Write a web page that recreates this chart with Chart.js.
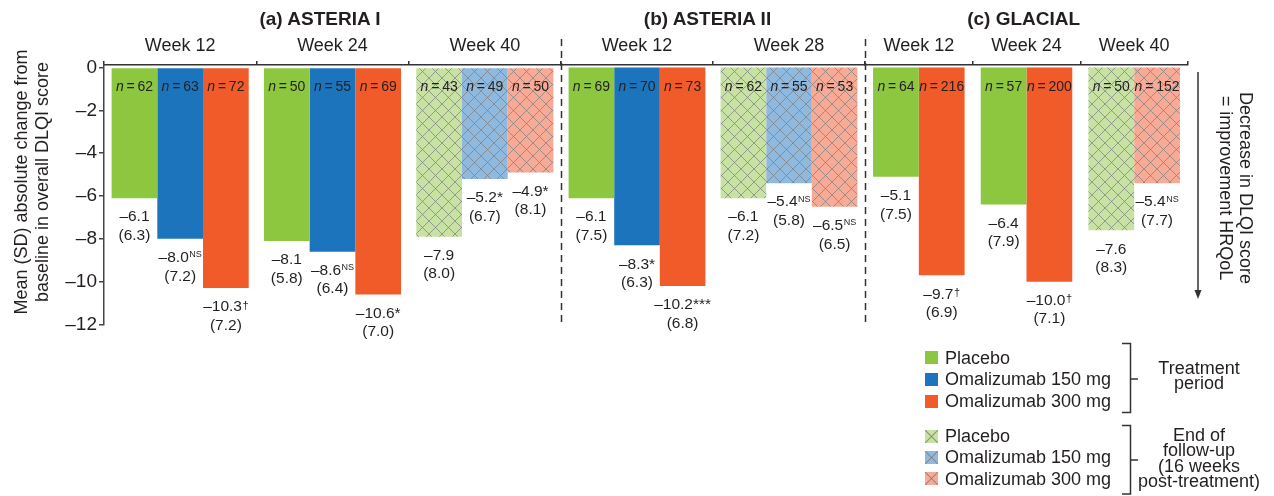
<!DOCTYPE html>
<html>
<head>
<meta charset="utf-8">
<script src="https://cdn.jsdelivr.net/npm/chart.js@4.4.0/dist/chart.umd.min.js"></script>
<style>
html,body{margin:0;padding:0;background:#fff;}
#wrap{position:relative;width:1274px;height:496px;overflow:hidden;font-family:"Liberation Sans",Arial,Helvetica,sans-serif;color:#231F20;}
canvas{position:absolute;left:0;top:0;}
.t{position:absolute;white-space:nowrap;}
.title{font-weight:bold;font-size:19px;line-height:22px;width:240px;text-align:center;top:8px;}
.leg{font-size:18px;line-height:20px;left:945px;}
.sw{position:absolute;left:925px;width:13px;height:13px;}
</style>
</head>
<body>
<div id="wrap">
<canvas id="cA" width="1274" height="496"></canvas>
<canvas id="cB" width="1274" height="496"></canvas>
<canvas id="cC" width="1274" height="496"></canvas>
<svg width="1274" height="496" style="position:absolute;left:0;top:0">
  <g stroke="#333" stroke-width="1.5" fill="none">
    <path d="M1122,343.5 H1130.5 V412.5 H1122 M1130.5,379 H1138"/>
    <path d="M1122,425.5 H1130.5 V494 H1122 M1130.5,460 H1138"/>
    <line x1="1198" y1="72" x2="1198" y2="292"/>
  </g>
  <path d="M1194.5,290 L1201.5,290 L1198,299 Z" fill="#333"/>
</svg>

<div class="t title" style="left:200px;">(a) ASTERIA I</div>
<div class="t title" style="left:587.5px;">(b) ASTERIA II</div>
<div class="t title" style="left:903.7px;">(c) GLACIAL</div>

<div class="t" style="left:-118.5px;top:161px;width:300px;height:42px;line-height:21px;font-size:18px;text-align:center;transform:rotate(-90deg);">Mean (SD) absolute change from<br>baseline in overall DLQI score</div>

<div class="t" style="left:1106px;top:167.5px;width:260px;height:40px;line-height:20px;font-size:18px;text-align:center;transform:rotate(90deg);">Decrease in DLQI score<br>= improvement HRQoL</div>

<div id="legend"></div>
<div class="t" style="left:1119px;top:360.8px;width:160px;line-height:15.5px;font-size:18px;text-align:center;">Treatment<br>period</div>
<div class="t" style="left:1109px;top:428px;width:180px;line-height:15.3px;font-size:18px;text-align:center;">End of<br>follow-up<br>(16 weeks<br>post-treatment)</div>
</div>

<script>
// ---------------- data ----------------
const yTicks = [0, -2, -4, -6, -8, -10, -12];

const asteria1Weeks = ['Week 12', 'Week 24', 'Week 40'];
const asteria1FollowUp = [false, false, true];
const asteria1PlaceboMean = [-6.1, -8.1, -7.9];
const asteria1PlaceboSD = [6.3, 5.8, 8.0];
const asteria1PlaceboN = [62, 50, 43];
const asteria1PlaceboSig = ['', '', ''];
const asteria1Oma150Mean = [-8.0, -8.6, -5.2];
const asteria1Oma150SD = [7.2, 6.4, 6.7];
const asteria1Oma150N = [63, 55, 49];
const asteria1Oma150Sig = ['NS', 'NS', '*'];
const asteria1Oma300Mean = [-10.3, -10.6, -4.9];
const asteria1Oma300SD = [7.2, 7.0, 8.1];
const asteria1Oma300N = [72, 69, 50];
const asteria1Oma300Sig = ['\u2020', '*', '*'];

const asteria2Weeks = ['Week 12', 'Week 28'];
const asteria2FollowUp = [false, true];
const asteria2PlaceboMean = [-6.1, -6.1];
const asteria2PlaceboSD = [7.5, 7.2];
const asteria2PlaceboN = [69, 62];
const asteria2PlaceboSig = ['', ''];
const asteria2Oma150Mean = [-8.3, -5.4];
const asteria2Oma150SD = [6.3, 5.8];
const asteria2Oma150N = [70, 55];
const asteria2Oma150Sig = ['*', 'NS'];
const asteria2Oma300Mean = [-10.2, -6.5];
const asteria2Oma300SD = [6.8, 6.5];
const asteria2Oma300N = [73, 53];
const asteria2Oma300Sig = ['***', 'NS'];

const glacialWeeks = ['Week 12', 'Week 24', 'Week 40'];
const glacialFollowUp = [false, false, true];
const glacialPlaceboMean = [-5.1, -6.4, -7.6];
const glacialPlaceboSD = [7.5, 7.9, 8.3];
const glacialPlaceboN = [64, 57, 50];
const glacialPlaceboSig = ['', '', ''];
const glacialOma300Mean = [-9.7, -10.0, -5.4];
const glacialOma300SD = [6.9, 7.1, 7.7];
const glacialOma300N = [216, 200, 152];
const glacialOma300Sig = ['\u2020', '\u2020', 'NS'];

const seriesNames = {placebo: 'Placebo', oma150: 'Omalizumab 150 mg', oma300: 'Omalizumab 300 mg'};

// ---------------- styles ----------------
const FAM = '"Liberation Sans", Arial, Helvetica, sans-serif';
const TXT = '#231F20';
const solid = {placebo: '#8DC63F', oma150: '#1C75BC', oma300: '#F15A29'};
const light = {placebo: '#C7E2A2', oma150: '#8FB9DF', oma300: '#F7AA95'};
Chart.defaults.font.family = FAM;

function hatch(base) {
  const s = 13;
  const c = document.createElement('canvas');
  c.width = s; c.height = s;
  const g = c.getContext('2d');
  g.fillStyle = base; g.fillRect(0, 0, s, s);
  g.strokeStyle = 'rgba(125,125,125,0.8)';
  g.lineWidth = 0.9;
  g.beginPath();
  for (let k = -1; k <= 1; k++) {
    g.moveTo(k * s, 0); g.lineTo(k * s + s, s);
    g.moveTo(k * s + s, 0); g.lineTo(k * s, s);
  }
  g.stroke();
  return g.createPattern(c, 'repeat');
}

function fmtNum(v) { return (v < 0 ? '\u2013' : '') + Math.abs(v).toFixed(1); }
function fmtTick(v) { return v === 0 ? '0' : (v < 0 ? '\u2013' : '') + Math.abs(v); }

function drawN(ctx, cx, cy, n) {
  const fs = 14;
  ctx.save();
  ctx.fillStyle = TXT; ctx.textBaseline = 'middle'; ctx.textAlign = 'left';
  ctx.font = 'italic ' + fs + 'px ' + FAM;
  const w1 = ctx.measureText('n').width;
  const rest = '\u2009=\u2009' + n;
  ctx.font = fs + 'px ' + FAM;
  const w2 = ctx.measureText(rest).width;
  const x0 = cx - (w1 + w2) / 2;
  ctx.font = 'italic ' + fs + 'px ' + FAM;
  ctx.fillText('n', x0, cy);
  ctx.font = fs + 'px ' + FAM;
  ctx.fillText(rest, x0 + w1, cy);
  ctx.restore();
}

function drawVal(ctx, cx, cy, mean, sig, sd) {
  const fs = 15.5;
  ctx.save();
  ctx.fillStyle = TXT; ctx.textBaseline = 'middle'; ctx.textAlign = 'left';
  const main = fmtNum(mean);
  ctx.font = fs + 'px ' + FAM;
  const wm = ctx.measureText(main).width;
  let supFont = fs + 'px ' + FAM, supDy = 0, gap = 0, ws = 0;
  if (sig) {
    if (sig.indexOf('*') >= 0) { supFont = fs + 'px ' + FAM; supDy = 0; gap = 0; }
    else if (sig === 'NS') { supFont = '9px ' + FAM; supDy = -3; gap = 0.5; }
    else { supFont = '11px ' + FAM; supDy = -1.5; gap = 0.5; }
    ctx.font = supFont;
    ws = ctx.measureText(sig).width;
  }
  const x0 = cx - (wm + gap + ws) / 2;
  ctx.font = fs + 'px ' + FAM;
  ctx.fillText(main, x0, cy);
  if (sig) { ctx.font = supFont; ctx.fillText(sig, x0 + wm + gap, cy + supDy); }
  ctx.font = fs + 'px ' + FAM;
  ctx.textAlign = 'center';
  ctx.fillText('(' + sd.toFixed(1) + ')', cx, cy + 18.5);
  ctx.restore();
}

function makeLabelPlugin(series) {
  return {
    id: 'valueLabels',
    afterDatasetsDraw(chart) {
      const ctx = chart.ctx;
      const zero = chart.scales.y.getPixelForValue(0);
      chart.data.datasets.forEach((ds, i) => {
        const meta = chart.getDatasetMeta(i);
        const s = series[i];
        meta.data.forEach((bar, j) => {
          drawN(ctx, bar.x, zero + 20, s.n[j]);
          drawVal(ctx, bar.x, bar.y + 19, s.mean[j], s.sig[j], s.sd[j]);
        });
      });
    }
  };
}

const dashPlugin = {
  id: 'panelDash',
  afterDraw(chart) {
    const ctx = chart.ctx;
    const x = Math.round(chart.chartArea.left) + 0.5;
    ctx.save();
    ctx.strokeStyle = '#333'; ctx.lineWidth = 1.5; ctx.setLineDash([7, 5]);
    ctx.beginPath(); ctx.moveTo(x, 39); ctx.lineTo(x, 327); ctx.stroke();
    ctx.restore();
  }
};

const panels = [
  {id: 'cA', weeks: asteria1Weeks, followUp: asteria1FollowUp, left: 104, right: 561, showY: true, catPct: 0.9, dash: false,
   series: [
     {key: 'placebo', mean: asteria1PlaceboMean, sd: asteria1PlaceboSD, n: asteria1PlaceboN, sig: asteria1PlaceboSig},
     {key: 'oma150', mean: asteria1Oma150Mean, sd: asteria1Oma150SD, n: asteria1Oma150N, sig: asteria1Oma150Sig},
     {key: 'oma300', mean: asteria1Oma300Mean, sd: asteria1Oma300SD, n: asteria1Oma300N, sig: asteria1Oma300Sig}]},
  {id: 'cB', weeks: asteria2Weeks, followUp: asteria2FollowUp, left: 561, right: 865, showY: false, catPct: 0.9, dash: true,
   series: [
     {key: 'placebo', mean: asteria2PlaceboMean, sd: asteria2PlaceboSD, n: asteria2PlaceboN, sig: asteria2PlaceboSig},
     {key: 'oma150', mean: asteria2Oma150Mean, sd: asteria2Oma150SD, n: asteria2Oma150N, sig: asteria2Oma150Sig},
     {key: 'oma300', mean: asteria2Oma300Mean, sd: asteria2Oma300SD, n: asteria2Oma300N, sig: asteria2Oma300Sig}]},
  {id: 'cC', weeks: glacialWeeks, followUp: glacialFollowUp, left: 865, right: 1188, showY: false, catPct: 0.85, dash: true,
   series: [
     {key: 'placebo', mean: glacialPlaceboMean, sd: glacialPlaceboSD, n: glacialPlaceboN, sig: glacialPlaceboSig},
     {key: 'oma300', mean: glacialOma300Mean, sd: glacialOma300SD, n: glacialOma300N, sig: glacialOma300Sig}]}
];

panels.forEach(p => {
  const plugins = [makeLabelPlugin(p.series)];
  if (p.dash) plugins.push(dashPlugin);
  const yScale = {
    display: p.showY, min: -12, max: 0.12,
    afterBuildTicks(s) { s.ticks = yTicks.map(v => ({value: v})); },
    ticks: {callback: v => fmtTick(v), font: {size: 19, family: FAM}, color: TXT, padding: 2},
    grid: {drawOnChartArea: false, drawTicks: true, tickLength: 5, color: '#444', lineWidth: 1.5},
    border: {display: true, color: '#444', width: 1.5}
  };
  if (p.showY) yScale.afterFit = function (s) { s.width = 104; };
  new Chart(document.getElementById(p.id), {
    type: 'bar',
    data: {
      labels: p.weeks,
      datasets: p.series.map(s => ({
        label: seriesNames[s.key],
        data: s.mean,
        backgroundColor: p.followUp.map(f => f ? hatch(light[s.key]) : solid[s.key]),
        borderWidth: 0,
        categoryPercentage: p.catPct,
        barPercentage: 1
      }))
    },
    options: {
      responsive: false,
      animation: false,
      events: [],
      layout: {padding: {left: p.showY ? 0 : p.left, right: 1274 - p.right, top: 35, bottom: 171.5}},
      plugins: {legend: {display: false}, tooltip: {enabled: false}, title: {display: false}},
      scales: {
        x: {
          position: 'top', offset: true,
          grid: {offset: true, drawOnChartArea: false, drawTicks: true, tickLength: 4, color: '#333', lineWidth: 1.5},
          border: {display: true, color: '#333', width: 1.5},
          ticks: {font: {size: 18, family: FAM}, color: TXT, padding: 4, maxRotation: 0, autoSkip: false},
          afterFit(s) { s.height = 30; }
        },
        y: yScale
      }
    },
    plugins: plugins
  });
});

// ---------------- legend (HTML) ----------------
const legendRows = [
  {key: 'placebo', hatched: false, cy: 357.5},
  {key: 'oma150', hatched: false, cy: 379},
  {key: 'oma300', hatched: false, cy: 401},
  {key: 'placebo', hatched: true, cy: 436},
  {key: 'oma150', hatched: true, cy: 457},
  {key: 'oma300', hatched: true, cy: 478.5}
];
const leg = document.getElementById('legend');
legendRows.forEach(r => {
  const sw = document.createElement('div');
  sw.className = 'sw';
  sw.style.top = (r.cy - 6.5) + 'px';
  if (r.hatched) {
    sw.style.background = 'linear-gradient(45deg, transparent 45%, rgba(125,125,125,0.8) 50%, transparent 55%), linear-gradient(-45deg, transparent 45%, rgba(125,125,125,0.8) 50%, transparent 55%), ' + light[r.key];
  } else {
    sw.style.background = solid[r.key];
  }
  leg.appendChild(sw);
  const t = document.createElement('div');
  t.className = 't leg';
  t.style.top = (r.cy - 10) + 'px';
  t.textContent = seriesNames[r.key];
  leg.appendChild(t);
});
</script>
</body>
</html>
